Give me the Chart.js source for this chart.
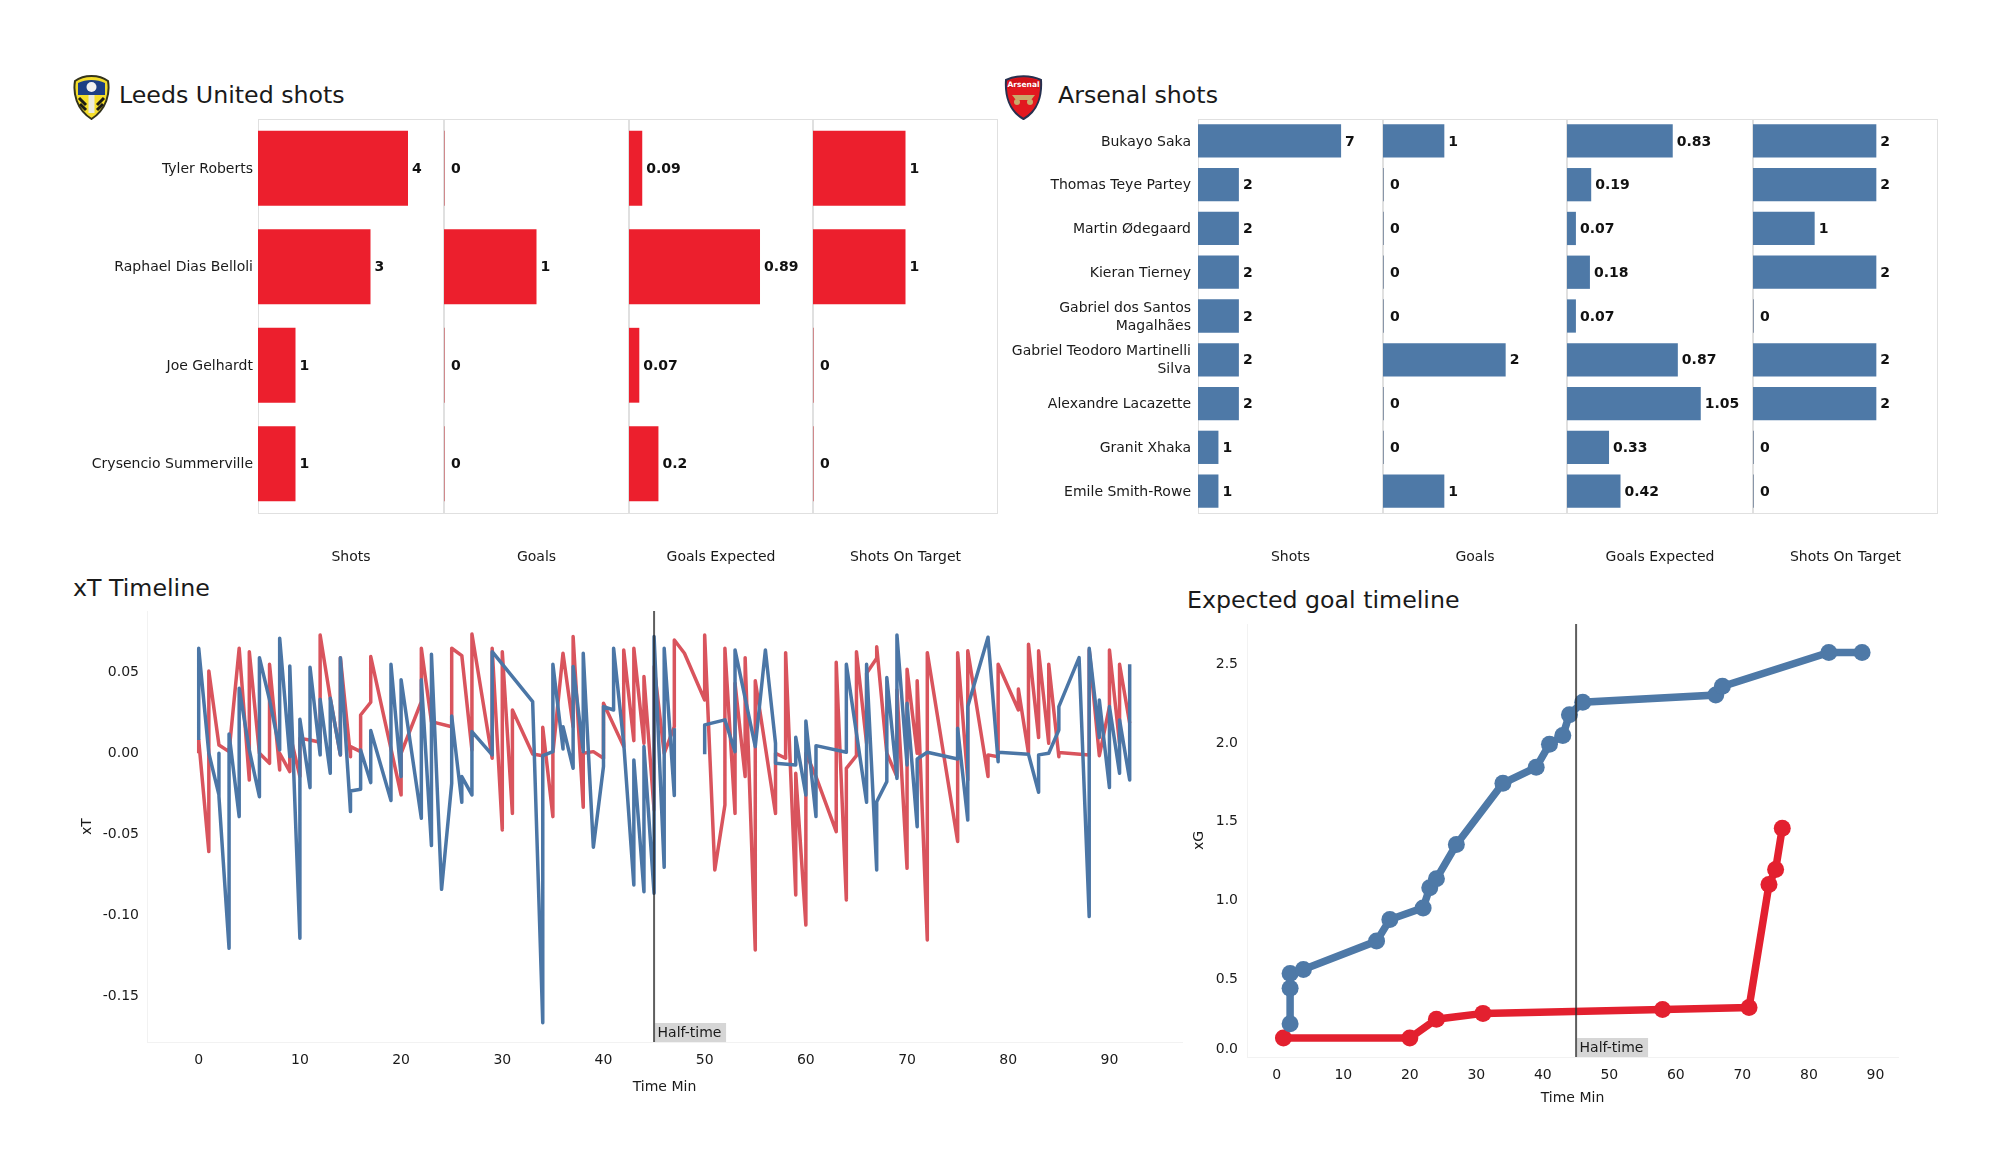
<!DOCTYPE html>
<html>
<head>
<meta charset="utf-8">
<title>Leeds United v Arsenal</title>
<script src="https://cdn.jsdelivr.net/npm/chart.js@4"></script>
<style>
  body { margin: 0; background: #fff; }
  #page { position: relative; width: 2000px; height: 1175px; overflow: hidden; font-family: "DejaVu Sans", sans-serif; color: #1a1a1a; }
  #page canvas { position: absolute; display: block; }
  #page svg { position: absolute; }
  .title { position: absolute; font-size: 23.7px; line-height: 30px; white-space: nowrap; }
</style>
</head>
<body>
<div id="page">
  <svg style="left:73px;top:75px" width="37" height="45" viewBox="0 0 37 45">
    <path d="M18.5 1 C25 1 31 3 35 6 C37 18 34 34 18.5 44 C3 34 0 18 2 6 C6 3 12 1 18.5 1 Z" fill="#f4dd2a" stroke="#33331c" stroke-width="2"/>
    <path d="M5 8 C13 4 24 4 32 8 L32 20 L5 20 Z" fill="#1d3f85"/>
    <circle cx="18.5" cy="12" r="5" fill="#f2f2f2"/>
    <path d="M18.5 20 L18.5 38" stroke="#e9e9df" stroke-width="6"/>
    <path d="M6 23 L13 30 M7 29 L13 35 M31 23 L24 30 M30 29 L24 35" stroke="#1b1b14" stroke-width="3"/>
  </svg>
  <div class="title" style="left:119px;top:80px">Leeds United shots</div>

  <svg style="left:1004px;top:75px" width="39" height="45" viewBox="0 0 39 45">
    <path d="M2 5 C12 0 27 0 37 5 C38 20 34 36 19.5 44 C5 36 1 20 2 5 Z" fill="#e2181f" stroke="#27304f" stroke-width="2"/>
    <path d="M4 6 C13 2 26 2 35 6 L35 14 C26 11 13 11 4 14 Z" fill="#d01219"/>
    <text x="19.5" y="12" text-anchor="middle" font-size="7.5" font-weight="bold" fill="#fff" font-family="DejaVu Sans">Arsenal</text>
    <path d="M8 20 L31 20 L27 25 L12 25 Z" fill="#c9a96a"/>
    <circle cx="13" cy="27" r="3" fill="#c9a96a"/>
    <circle cx="26" cy="27" r="3" fill="#c9a96a"/>
  </svg>
  <div class="title" style="left:1058px;top:80px">Arsenal shots</div>

  <div class="title" style="left:73px;top:573px">xT Timeline</div>
  <div class="title" style="left:1187px;top:585px">Expected goal timeline</div>
</div>

<script>
const metricNames = ["Shots", "Goals", "Goals Expected", "Shots On Target"];

const leedsPlayers = ["Tyler Roberts", "Raphael Dias Belloli", "Joe Gelhardt", "Crysencio Summerville"];
const leedsShots = [4, 3, 1, 1];
const leedsGoals = [0, 1, 0, 0];
const leedsExpected = [0.09, 0.89, 0.07, 0.2];
const leedsOnTarget = [1, 1, 0, 0];

const arsenalPlayers = [
    "Bukayo Saka", "Thomas Teye Partey", "Martin Ødegaard", "Kieran Tierney",
    ["Gabriel dos Santos", "Magalhães"], ["Gabriel Teodoro Martinelli", "Silva"],
    "Alexandre Lacazette", "Granit Xhaka", "Emile Smith-Rowe"
];
const arsenalShots = [7, 2, 2, 2, 2, 2, 2, 1, 1];
const arsenalGoals = [1, 0, 0, 0, 0, 2, 0, 0, 1];
const arsenalExpected = [0.83, 0.19, 0.07, 0.18, 0.07, 0.87, 1.05, 0.33, 0.42];
const arsenalOnTarget = [2, 2, 1, 2, 0, 2, 2, 0, 0];

// xT per minute, a minute shows up more than once when the line goes straight up or down
const xtLeedsMin = [
    0, 0, 1, 1, 2, 3, 4, 5, 5, 6, 7, 7, 8, 8, 9, 9, 10, 10, 11, 12, 12, 13, 14, 14, 15, 15, 16, 16, 17, 17, 20, 20,
    22, 22, 23, 25, 25, 26, 27, 27, 29, 29, 30, 30, 31, 31, 33, 34, 34, 35, 35, 36, 37, 37, 38, 38, 39, 40, 40, 42, 42, 43, 43, 44, 44,
    45, 45, 46, 47, 47, 48, 50, 50, 51, 52, 52, 53, 53, 54, 54, 55, 55, 57, 57, 58, 58, 59, 59, 60, 60, 61, 63, 63, 64, 64, 65, 65, 66, 66,
    67, 67, 68, 69, 69, 70, 70, 71, 71, 72, 72, 75, 75, 76, 76, 78, 78, 79, 79, 81, 81, 82, 82, 83, 83, 84, 84, 85, 85, 88, 88, 89, 90, 90, 91, 91, 92
];
const xtLeeds = [
    -0.0005, 0.0077, -0.0612, 0.0503, 0.0046, 0.0005, 0.0643, -0.017, 0.0622, -0.0005, -0.0067, 0.0544, -0.0108, -0.0005, -0.0118, 0.0118, -0.0149, 0.0087, 0.0077, 0.0063, 0.0725, 0.0334, -0.0015, 0.0585, -0.0026, 0.0036, 0.0005, 0.0231, 0.031, 0.0592, -0.0262, -0.0005,
    0.0314, 0.0643, 0.019, 0.0159, 0.0643, 0.0598, 0.0015, 0.0731, -0.0036, 0.0643, -0.0478, 0.0622, -0.0376, 0.0262, -0.0009, -0.002, 0.0155, -0.0396, -0.0005, 0.0612, 0.0159, 0.0715, -0.0338, -0.0005, 0.0005, -0.0036, 0.0303, 0.0036, 0.0633, 0.0073, 0.0643, 0.0057, 0.0468,
    -0.0355, 0.053, -0.0005, 0.0159, 0.0694, 0.0612, 0.0324, 0.0725, -0.0725, -0.0324, 0.0643, -0.0376, 0.0427, -0.0149, 0.0585, -0.1219, 0.0443, -0.0376, -0.0005, -0.0036, 0.0616, -0.088, -0.0129, -0.1065, -0.0005, -0.0149, -0.0489, 0.0557, -0.091, -0.0098, -0.002, 0.0622, 0.0057, 0.0489,
    0.0581, 0.0653, -0.0005, -0.0149, 0.0386, -0.0715, 0.0513, -0.0005, 0.0443, -0.1157, 0.0616, -0.055, 0.0616, -0.017, 0.0627, -0.0149, -0.0015, -0.0026, 0.0544, 0.0262, 0.0392, -0.0005, 0.0668, 0.0092, 0.0627, 0.0057, 0.0544, -0.0026, -0.0001, -0.0015, 0.0633, -0.002, 0.0283, 0.0633, 0.0057, 0.0544, 0.018
];

const xtArsenalMin = [
    0, 0, 1, 2, 2, 2, 3, 3, 4, 4, 5, 6, 6, 7, 8, 8, 9, 9, 10, 10, 11, 11, 12, 12, 13, 13, 14, 14, 15, 15, 16, 16, 17, 17, 19, 19, 20, 20,
    22, 22, 23, 23, 24, 25, 25, 26, 26, 27, 27, 29, 29, 33, 34, 34, 35, 35, 36, 36, 37, 37, 38, 38, 39, 40, 40, 41, 41, 42, 43, 43, 44, 44,
    45, 45, 46, 46, 47, 47, 48, 50, 50, 52, 53, 53, 55, 56, 57, 57, 59, 59, 60, 60, 61, 61, 64, 64, 66, 66,
    67, 67, 68, 68, 69, 69, 70, 70, 71, 71, 72, 75, 75, 76, 76, 78, 79, 79, 82, 83, 83, 84, 85, 85, 87, 88, 88, 89, 89, 90, 90, 91, 91, 92, 92
];
const xtArsenal = [
    0.0077, 0.0643, -0.0005, -0.0262, -0.0005, -0.0273, -0.1209, 0.0114, -0.0396, 0.0396, 0.0015, -0.0273, 0.0585, 0.0324, 0.0015, 0.0705, -0.0026, 0.0534, -0.1147, 0.0205, -0.0217, 0.0526, -0.0015, 0.0328, -0.0129, 0.0334, -0.0015, 0.0585, -0.0365, -0.0238, -0.0227, 0.0015, -0.0186, 0.0135, -0.0297, 0.0544, -0.0149, 0.0448,
    -0.0406, 0.0448, -0.0575, 0.0606, -0.0845, -0.0191, 0.0225, -0.0308, -0.0149, -0.0262, 0.0129, -0.0015, 0.0622, 0.0314, -0.1668, -0.002, 0.0005, 0.0544, 0.0022, 0.0159, -0.0098, 0.053, 0.0005, 0.0612, -0.0585, -0.0087, 0.0283, 0.0262, 0.0643, 0.0057, -0.0818, -0.0046, -0.0859, 0.0036,
    -0.0869, 0.0715, -0.0709, 0.0643, -0.0266, 0.0149, null, -0.0011, 0.017, 0.0201, 0.0005, 0.0633, 0.0036, 0.0633, 0.0057, -0.0067, -0.0077, 0.0094, -0.0262, 0.0194, -0.0396, 0.0042, 0.0001, 0.0544, -0.0308, 0.0544,
    -0.0725, -0.0304, -0.018, 0.0462, -0.016, 0.0725, -0.0077, 0.0303, -0.0458, -0.004, 0.0001, -0.004, 0.0149, -0.0417, 0.0283, 0.0711, -0.0057, 0.0001, -0.0011, -0.0246, -0.0015, -0.0005, 0.0139, 0.0283, 0.0585, -0.1013, 0.0643, 0.0092, 0.0324, -0.0217, 0.0283, -0.0129, 0.0201, -0.017, 0.0544
];

const xgLeedsMin = [1, 20, 24, 31, 58, 71, 74, 75, 76];
const xgLeeds = [0.121, 0.121, 0.24, 0.277, 0.301, 0.314, 1.095, 1.191, 1.453];
const xgArsenalMin = [2, 2, 2, 4, 15, 17, 22, 23, 24, 27, 34, 39, 41, 43, 44, 46, 66, 67, 83, 88];
const xgArsenal = [0.211, 0.437, 0.53, 0.556, 0.736, 0.873, 0.947, 1.075, 1.132, 1.349, 1.738, 1.84, 1.987, 2.042, 2.174, 2.253, 2.299, 2.354, 2.569, 2.569];

const RED = "#ec1f2d";
const BLUE = "#4e79a7";
const FAMILY = '"DejaVu Sans", sans-serif';

Chart.defaults.font.family = FAMILY;
Chart.defaults.font.size = 14;
Chart.defaults.color = "#1a1a1a";
Chart.defaults.animation = false;

const page = document.getElementById("page");

const makeCanvas = (left, top, width, height) => {
    const canvas = document.createElement("canvas");
    canvas.width = width;
    canvas.height = height;
    canvas.style.left = left + "px";
    canvas.style.top = top + "px";
    canvas.style.width = width + "px";
    canvas.style.height = height + "px";
    page.appendChild(canvas);
    return canvas;
};

// fixes an axis box size, and drops the extra room Chart.js keeps for the end labels
const fixAxisSize = (scale, prop, size) => {
    scale[prop] = size;
    scale.paddingTop = 0;
    scale.paddingBottom = 0;
    scale.paddingLeft = 0;
    scale.paddingRight = 0;
};

// light box round each small bar panel
const panelFrame = {
    id: "panelFrame",
    beforeDatasetsDraw(chart) {
        const { left, top, right, bottom } = chart.chartArea;
        const ctx = chart.ctx;
        ctx.save();
        ctx.strokeStyle = "#e0e0e0";
        ctx.lineWidth = 1;
        ctx.strokeRect(Math.round(left) + 0.5, Math.round(top) + 0.5, Math.round(right - left) - 1, Math.round(bottom - top));
        ctx.restore();
    }
};

// bold number at the end of each bar
const barValues = {
    id: "barValues",
    afterDatasetsDraw(chart) {
        const ctx = chart.ctx;
        const values = chart.data.datasets[0].data;
        ctx.save();
        ctx.font = "bold 14px " + FAMILY;
        ctx.fillStyle = "#111";
        ctx.textAlign = "left";
        ctx.textBaseline = "middle";
        chart.getDatasetMeta(0).data.forEach((bar, i) => {
            ctx.fillText(String(values[i]), bar.x + (values[i] === 0 ? 6 : 4), bar.y + 1);
        });
        ctx.restore();
    }
};

// vertical line at 45 minutes and the little grey label next to it
const halfTime = {
    id: "halfTime",
    afterDatasetsDraw(chart) {
        const ctx = chart.ctx;
        const x = chart.scales.x.getPixelForValue(45);
        const { top, bottom } = chart.chartArea;
        ctx.save();
        ctx.fillStyle = "rgba(200,200,200,0.75)";
        ctx.fillRect(x + 1, bottom - 19, 71, 19);
        ctx.strokeStyle = "rgba(40,40,40,0.75)";
        ctx.lineWidth = 2;
        ctx.beginPath();
        ctx.moveTo(x, top);
        ctx.lineTo(x, bottom);
        ctx.stroke();
        ctx.fillStyle = "#1a1a1a";
        ctx.font = "14px " + FAMILY;
        ctx.textAlign = "left";
        ctx.textBaseline = "middle";
        ctx.fillText("Half-time", x + 3.5, bottom - 9);
        ctx.restore();
    }
};

const fadedZero = (color, faded) => (ctx) => (ctx.raw === 0 ? faded : color);

const barPanel = (opts) => {
    const canvas = makeCanvas(opts.left - opts.labelWidth, 118, opts.width + opts.labelWidth + 1, 448);
    new Chart(canvas, {
        type: "bar",
        data: {
            labels: opts.players,
            datasets: [{
                data: opts.values,
                backgroundColor: fadedZero(opts.color, opts.faded),
                barPercentage: 0.76,
                categoryPercentage: 1,
                minBarLength: 1
            }]
        },
        options: {
            indexAxis: "y",
            responsive: false,
            devicePixelRatio: 1,
            layout: { autoPadding: false, padding: { top: 1, right: 1 } },
            plugins: { legend: { display: false }, tooltip: { enabled: false } },
            scales: {
                x: {
                    min: 0,
                    max: opts.xMax,
                    grid: { display: false, drawTicks: false },
                    border: { display: false },
                    ticks: { display: false },
                    title: { display: true, text: opts.metric, padding: 0 },
                    afterFit: (scale) => fixAxisSize(scale, "height", 53)
                },
                y: {
                    display: opts.labelWidth > 0,
                    grid: { display: false, drawTicks: false },
                    border: { display: false },
                    ticks: { autoSkip: false, padding: opts.labelPad, labelOffset: 1, font: { size: 14, lineHeight: 1.28 } },
                    afterFit: (scale) => fixAxisSize(scale, "width", opts.labelWidth)
                }
            }
        },
        plugins: [panelFrame, barValues]
    });
};

const teamPanels = (players, series, xMaxes, lefts, right, labelPad, color, faded) => {
    series.forEach((values, i) => {
        const next = i + 1 < lefts.length ? lefts[i + 1] : right;
        barPanel({
            players, values, color, faded, labelPad,
            metric: metricNames[i],
            xMax: xMaxes[i],
            left: lefts[i],
            width: next - lefts[i],
            labelWidth: i === 0 ? 198 : 0
        });
    });
};

teamPanels(leedsPlayers, [leedsShots, leedsGoals, leedsExpected, leedsOnTarget], [4.96, 2, 1.25, 2],
    [258, 444, 629, 813], 998, 5, RED, "rgba(200,90,95,0.65)");
teamPanels(arsenalPlayers, [arsenalShots, arsenalGoals, arsenalExpected, arsenalOnTarget], [9.05, 3, 1.46, 3],
    [1198, 1383, 1567, 1753], 1938, 7, BLUE, "rgba(90,110,140,0.65)");

const zipPoints = (xs, ys) => xs.map((x, i) => ({ x: x, y: ys[i] }));

const timelineAxis = (extra) => Object.assign({
    type: "linear",
    grid: { display: false, drawTicks: false },
    border: { display: true, color: "#f2f2f2" }
}, extra);

const timelineChart = (box, datasets, axes) => {
    const canvas = makeCanvas(box.left, box.top, box.width, box.height);
    new Chart(canvas, {
        type: "line",
        data: { datasets },
        options: {
            responsive: false,
            devicePixelRatio: 1,
            layout: { autoPadding: false, padding: { top: box.padTop, right: 4 } },
            plugins: { legend: { display: false }, tooltip: { enabled: false } },
            scales: axes
        },
        plugins: [halfTime]
    });
};

timelineChart({ left: 79, top: 600, width: 1107, height: 496, padTop: 11 }, [
    { data: zipPoints(xtArsenalMin, xtArsenal), borderColor: "#4b76a6", borderWidth: 3.5, pointRadius: 0, borderJoinStyle: "round", spanGaps: false },
    { data: zipPoints(xtLeedsMin, xtLeeds), borderColor: "#d9545d", borderWidth: 3.5, pointRadius: 0, borderJoinStyle: "round" }
], {
    x: timelineAxis({
        min: -5.11, max: 97.17,
        ticks: { stepSize: 10, includeBounds: false, padding: 10, maxRotation: 0 },
        title: { display: true, text: "Time Min", padding: 0 },
        afterFit: (scale) => fixAxisSize(scale, "height", 54)
    }),
    y: timelineAxis({
        min: -0.1787, max: 0.0873,
        ticks: { stepSize: 0.05, includeBounds: false, padding: 8, labelOffset: 1, callback: (v) => v.toFixed(2) },
        title: { display: true, text: "xT", padding: 0 },
        afterFit: (scale) => fixAxisSize(scale, "width", 68)
    })
});

timelineChart({ left: 1191, top: 610, width: 711, height: 497, padTop: 14 }, [
    { data: zipPoints(xgArsenalMin, xgArsenal), borderColor: BLUE, backgroundColor: BLUE, borderWidth: 7.5, pointRadius: 8.5, pointBorderWidth: 0 },
    { data: zipPoints(xgLeedsMin, xgLeeds), borderColor: "#e3202f", backgroundColor: "#e3202f", borderWidth: 7.5, pointRadius: 8.5, pointBorderWidth: 0 }
], {
    x: timelineAxis({
        min: -4.48, max: 93.4,
        ticks: { stepSize: 10, includeBounds: false, padding: 10, maxRotation: 0 },
        title: { display: true, text: "Time Min", padding: 0 },
        afterFit: (scale) => fixAxisSize(scale, "height", 50)
    }),
    y: timelineAxis({
        min: 0, max: 2.75,
        ticks: {
            stepSize: 0.5,
            includeBounds: false,
            padding: 9,
            labelOffset: 1,
            // the bottom label sits a bit higher than its tick in the original
            callback: (v) => (v === 0 ? ["0.0", ""] : v.toFixed(1))
        },
        title: { display: true, text: "xG", padding: 0 },
        afterFit: (scale) => fixAxisSize(scale, "width", 56)
    })
});
</script>
</body>
</html>
